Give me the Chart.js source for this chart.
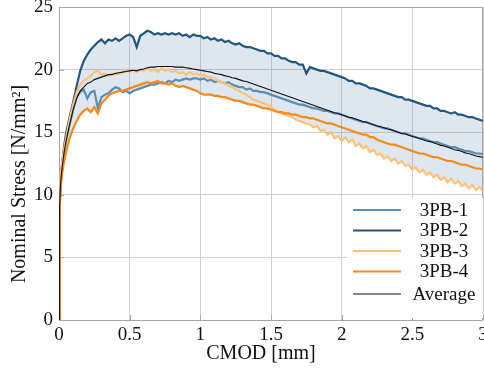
<!DOCTYPE html>
<html><head><meta charset="utf-8">
<script src="https://cdn.jsdelivr.net/npm/chart.js@4.4.1/dist/chart.umd.min.js"></script>
<style>html,body{margin:0;padding:0;background:#fff;}</style>
</head><body>
<canvas id="c" width="484" height="368"></canvas>
<script>
// CMOD [mm] sample positions shared by all series
const CMOD = [0, 0.004, 0.01, 0.02, 0.035, 0.05,
  0.075, 0.1, 0.125, 0.15, 0.175, 0.2, 0.225, 0.25,
  0.275, 0.3, 0.325, 0.35, 0.375, 0.4, 0.425, 0.45, 0.475, 0.5,
  0.525, 0.55, 0.575, 0.6, 0.625, 0.65, 0.675, 0.7, 0.725, 0.75,
  0.775, 0.8, 0.825, 0.85, 0.875, 0.9, 0.925, 0.95, 0.975, 1.0,
  1.025, 1.05, 1.075, 1.1, 1.125, 1.15, 1.175, 1.2, 1.225, 1.25,
  1.275, 1.3, 1.325, 1.35, 1.375, 1.4, 1.425, 1.45, 1.475, 1.5,
  1.525, 1.55, 1.575, 1.6, 1.625, 1.65, 1.675, 1.7, 1.725, 1.75,
  1.775, 1.8, 1.825, 1.85, 1.875, 1.9, 1.925, 1.95, 1.975, 2.0,
  2.025, 2.05, 2.075, 2.1, 2.125, 2.15, 2.175, 2.2, 2.225, 2.25,
  2.275, 2.3, 2.325, 2.35, 2.375, 2.4, 2.425, 2.45, 2.475, 2.5,
  2.525, 2.55, 2.575, 2.6, 2.625, 2.65, 2.675, 2.7, 2.725, 2.75,
  2.775, 2.8, 2.825, 2.85, 2.875, 2.9, 2.925, 2.95, 2.975, 3.0];

const PB1 = [0, 8.5, 10.6, 12.0, 13.3, 14.3,
  15.6, 16.8, 17.8, 18.2, 18.4, 17.7, 18.2, 18.3,
  16.9, 17.8, 18.0, 18.1, 18.4, 18.6, 18.5, 18.2, 18.3, 18.1,
  18.3, 18.4, 18.5, 18.6, 18.7, 18.8, 18.8, 18.9, 19.0, 18.9,
  19.1, 19.0, 19.2, 19.1, 19.2, 19.3, 19.2, 19.3, 19.3, 19.2,
  19.3, 19.1, 19.2, 19.0, 19.1, 19.0, 18.9, 19.0, 18.8, 18.7,
  18.6, 18.6, 18.4, 18.5, 18.3, 18.3, 18.2, 18.2, 18.1, 18.0,
  17.9, 17.8, 17.7, 17.6, 17.5, 17.4, 17.3, 17.2, 17.2, 17.1,
  17.0, 16.9, 16.9, 16.8, 16.7, 16.7, 16.6, 16.5, 16.5, 16.4,
  16.3, 16.2, 16.1, 16.0, 15.9, 15.8, 15.8, 15.7, 15.6, 15.5,
  15.4, 15.3, 15.3, 15.2, 15.1, 15.0, 14.9, 14.9, 14.8, 14.7,
  14.6, 14.5, 14.5, 14.4, 14.3, 14.2, 14.2, 14.1, 14.0, 13.9,
  13.8, 13.8, 13.7, 13.6, 13.5, 13.5, 13.4, 13.3, 13.3, 13.25];

const PB2 = [0, 8.8, 10.8, 12.3, 13.8, 14.9,
  16.2, 17.4, 18.7, 19.9, 20.7, 21.2, 21.6, 21.9,
  22.2, 22.4, 22.1, 22.4, 22.3, 22.5, 22.3, 22.5, 22.7, 22.8,
  22.6, 21.8, 22.7, 22.9, 23.1, 23.0, 22.8, 22.9, 22.8, 22.9,
  22.8, 22.9, 22.8, 22.9, 22.7, 22.8, 22.6, 22.8, 22.7, 22.7,
  22.5, 22.6, 22.4, 22.5, 22.3, 22.4, 22.2, 22.3, 22.1, 22.0,
  22.1, 21.9, 21.8, 21.8, 21.7, 21.6, 21.5, 21.5, 21.3, 21.3,
  21.1, 21.1, 20.9, 20.9, 20.7, 20.6, 20.6, 20.4, 20.4, 19.7,
  20.2, 20.1, 20.0, 19.9, 19.9, 19.8, 19.7, 19.6, 19.5, 19.4,
  19.3, 19.1, 19.1, 18.9, 18.9, 18.8, 18.7, 18.5, 18.5, 18.4,
  18.3, 18.2, 18.1, 18.0, 17.9, 17.8, 17.8, 17.6, 17.6, 17.5,
  17.4, 17.3, 17.2, 17.1, 17.1, 16.9, 16.9, 16.7, 16.7, 16.6,
  16.5, 16.6, 16.4, 16.4, 16.3, 16.2, 16.2, 16.1, 16.0, 15.9];

const PB3 = [0, 10.0, 11.3, 12.4, 13.6, 14.5,
  16.0, 17.2, 18.2, 18.8, 19.1, 19.3, 19.5, 19.8,
  19.9, 19.6, 19.7, 19.5, 19.7, 19.6, 19.7, 19.8, 19.9, 19.8,
  20.0, 19.8, 20.0, 19.9, 20.1, 19.9, 20.0, 19.8, 20.1, 19.9,
  20.0, 19.8, 19.9, 19.7, 19.8, 19.6, 19.8, 19.6, 19.7, 19.5,
  19.6, 19.4, 19.4, 19.3, 19.1, 19.0, 18.9, 18.7, 18.6, 18.4,
  18.3, 18.1, 18.0, 17.8, 17.6, 17.5, 17.4, 17.3, 17.2, 17.0,
  16.8, 16.7, 16.5, 16.4, 16.3, 16.2, 16.0, 15.9, 15.8, 15.7,
  15.6, 15.4, 15.5, 15.1, 15.2, 14.8, 15.0, 14.5, 14.7, 14.3,
  14.6, 14.2, 14.4, 13.9, 14.1, 13.7, 13.9, 13.4, 13.6, 13.2,
  13.3, 12.9, 13.1, 12.7, 12.9, 12.5, 12.7, 12.3, 12.4, 12.0,
  12.2, 11.8, 12.0, 11.6, 11.8, 11.4, 11.6, 11.2, 11.4, 11.0,
  11.3, 10.9, 11.1, 10.7, 10.9, 10.5, 10.8, 10.4, 10.6, 10.3];

const PB4 = [0, 8.5, 10.3, 11.5, 12.6, 13.4,
  14.5, 15.3, 15.9, 16.4, 16.7, 16.9, 16.6, 17.0,
  16.5, 17.3, 17.6, 17.9, 18.1, 18.2, 18.3, 18.3, 18.4, 18.5,
  18.6, 18.7, 18.8, 18.9, 19.0, 18.9, 19.0, 19.1, 18.9, 18.9,
  18.8, 18.9, 18.7, 18.6, 18.7, 18.6, 18.5, 18.4, 18.3, 18.1,
  18.0, 18.0, 18.0, 17.9, 17.9, 17.8, 17.8, 17.7, 17.6, 17.5,
  17.5, 17.4, 17.3, 17.2, 17.2, 17.1, 17.0, 16.9, 16.9, 16.8,
  16.7, 16.6, 16.6, 16.5, 16.5, 16.4, 16.4, 16.3, 16.2, 16.2,
  16.1, 16.1, 16.0, 15.9, 15.8, 15.7, 15.7, 15.6, 15.5, 15.4,
  15.3, 15.2, 15.1, 15.0, 14.9, 14.8, 14.8, 14.6, 14.6, 14.4,
  14.3, 14.2, 14.1, 14.0, 14.0, 13.9, 13.8, 13.7, 13.6, 13.5,
  13.4, 13.3, 13.3, 13.2, 13.1, 13.0, 13.0, 12.9, 12.8, 12.7,
  12.7, 12.6, 12.5, 12.4, 12.4, 12.3, 12.2, 12.1, 12.1, 12.0];

const AVG = [0, 8.9, 10.7, 12.0, 13.3, 14.3,
  15.6, 16.8, 17.7, 18.3, 18.6, 18.9, 19.0, 19.2,
  19.3, 19.4, 19.5, 19.6, 19.6, 19.7, 19.75, 19.8, 19.85, 19.9,
  19.95, 19.9, 20.0, 20.05, 20.15, 20.2, 20.2, 20.25, 20.25, 20.25,
  20.25, 20.25, 20.2, 20.2, 20.2, 20.15, 20.1, 20.05, 20.0, 19.95,
  19.9, 19.85, 19.8, 19.7, 19.65, 19.6, 19.5, 19.45, 19.35, 19.3,
  19.2, 19.1, 19.05, 18.95, 18.85, 18.75, 18.65, 18.55, 18.45, 18.35,
  18.25, 18.15, 18.05, 17.95, 17.85, 17.75, 17.65, 17.55, 17.45, 17.35,
  17.25, 17.15, 17.05, 16.95, 16.85, 16.75, 16.65, 16.55, 16.5, 16.4,
  16.3, 16.2, 16.15, 16.05, 15.95, 15.85, 15.8, 15.7, 15.6, 15.5,
  15.45, 15.35, 15.25, 15.2, 15.1, 15.0, 14.9, 14.85, 14.75, 14.65,
  14.6, 14.5, 14.4, 14.3, 14.25, 14.15, 14.05, 13.95, 13.9, 13.8,
  13.7, 13.6, 13.55, 13.45, 13.35, 13.3, 13.2, 13.1, 13.05, 13.0];

const LABELS = ['3PB-1', '3PB-2', '3PB-3', '3PB-4', 'Average'];
const X_TICKS = [0, 0.5, 1, 1.5, 2, 2.5, 3];
const X_TICK_LABELS = ['0', '0.5', '1', '1.5', '2', '2.5', '3'];
const Y_TICKS = [0, 5, 10, 15, 20, 25];
const X_TITLE = 'CMOD [mm]';
const Y_TITLE = 'Nominal Stress [N/mm\u00B2]';

const COLORS = ['#5b8db3', '#24577a', '#fdc27a', '#f48a1c', '#111111'];
const WIDTHS = [2.2, 2.2, 2.2, 2.2, 1.1];
const FONT = "'Liberation Serif', 'Times New Roman', serif";

const pts = arr => CMOD.map((x, i) => ({ x: x, y: arr[i] }));
// lower envelope of the four specimens (shaded band runs from it up to 3PB-2)
const LOWER = CMOD.map((_, i) => Math.min(PB1[i], PB2[i], PB3[i], PB4[i]));

const SERIES = [PB1, PB2, PB3, PB4, AVG];
// dataset index order: Average on top
const drawOrder = [4, 3, 2, 1, 0];
const datasets = drawOrder.map(k => ({
  label: LABELS[k], data: pts(SERIES[k]),
  borderColor: COLORS[k], borderWidth: WIDTHS[k],
  pointRadius: 0, tension: 0, fill: false
}));
// 3PB-2 is at index 3
datasets.push({
  label: 'band', data: pts(LOWER), borderWidth: 0, borderColor: 'rgba(0,0,0,0)',
  pointRadius: 0, tension: 0, fill: 3, backgroundColor: 'rgba(70,120,165,0.18)'
});

const frame = {
  id: 'frame',
  beforeDatasetsDraw(chart) {
    const { ctx, chartArea: a, scales } = chart;
    ctx.save();
    ctx.strokeStyle = '#a6a6a6';
    ctx.lineWidth = 1;
    ctx.beginPath();
    X_TICKS.forEach(v => {
      const px = Math.round(scales.x.getPixelForValue(v)) + 0.5;
      ctx.moveTo(px, a.bottom); ctx.lineTo(px, a.bottom - 5);
    });
    Y_TICKS.forEach(v => {
      const py = Math.round(scales.y.getPixelForValue(v)) + 0.5;
      ctx.moveTo(a.left, py); ctx.lineTo(a.left + 5, py);
    });
    ctx.stroke();
    ctx.strokeRect(Math.round(a.left) + 0.5, Math.round(a.top) + 0.5,
      Math.round(a.right - a.left) - 1, Math.round(a.bottom - a.top));
    ctx.restore();
  },
  afterDraw(chart) {
    const ctx = chart.ctx;
    ctx.save();
    // axis titles
    ctx.fillStyle = '#111';
    ctx.font = '20px ' + FONT;
    ctx.textAlign = 'center';
    ctx.textBaseline = 'middle';
    ctx.fillText(X_TITLE, 261, 354);
    ctx.save();
    ctx.translate(20, 184);
    ctx.rotate(-Math.PI / 2);
    ctx.fillText(Y_TITLE, 0, 0);
    ctx.restore();
    // legend
    ctx.fillStyle = '#ffffff';
    ctx.fillRect(347, 198, 136, 120);
    const ys = [210, 230.5, 251, 271.5, 294];
    ctx.font = '19px ' + FONT;
    LABELS.forEach((lab, k) => {
      ctx.strokeStyle = COLORS[k];
      ctx.lineWidth = WIDTHS[k];
      ctx.beginPath();
      ctx.moveTo(353, ys[k]); ctx.lineTo(401, ys[k]);
      ctx.stroke();
      ctx.fillStyle = '#111';
      ctx.fillText(lab, 444, ys[k] + 1);
    });
    ctx.restore();
  }
};

new Chart(document.getElementById('c'), {
  type: 'line',
  data: { datasets: datasets },
  options: {
    responsive: false,
    animation: false,
    events: [],
    layout: { padding: { top: 7, right: 1, left: 0, bottom: 0 } },
    plugins: {
      legend: { display: false },
      tooltip: { enabled: false },
      filler: { drawTime: 'beforeDatasetsDraw' }
    },
    scales: {
      x: {
        type: 'linear', min: 0, max: 3,
        afterBuildTicks: s => { s.ticks = X_TICKS.map(v => ({ value: v })); },
        afterFit: s => { s.height = 48; s.paddingLeft = 0; s.paddingRight = 0; },
        grid: { color: '#d0d0d0', drawTicks: false, lineWidth: 1 },
        border: { display: false },
        ticks: { color: '#111', padding: 4, maxRotation: 0, autoSkip: false,
          callback: (v) => X_TICK_LABELS[X_TICKS.indexOf(v)] ?? String(v),
          font: { family: FONT, size: 19 } },
        title: { display: false }
      },
      y: {
        type: 'linear', min: 0, max: 25,
        afterBuildTicks: s => { s.ticks = Y_TICKS.map(v => ({ value: v })); },
        afterFit: s => { s.width = 59; s.paddingTop = 0; s.paddingBottom = 0; },
        grid: { color: '#d0d0d0', drawTicks: false, lineWidth: 1 },
        border: { display: false },
        ticks: { color: '#111', padding: 6, autoSkip: false, font: { family: FONT, size: 19 } },
        title: { display: false }
      }
    }
  },
  plugins: [frame]
});
</script>
</body></html>
